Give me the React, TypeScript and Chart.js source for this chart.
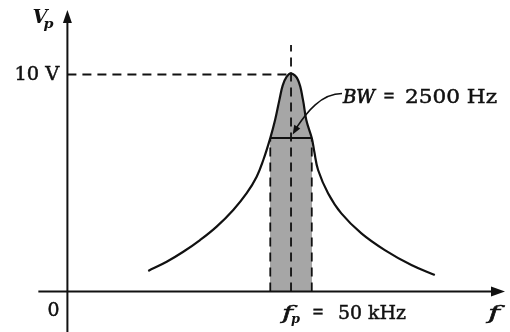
import React, { useEffect, useRef } from "react";
import { Chart, registerables } from "chart.js";

Chart.register(...registerables);

// Resonance curve (frequency in kHz, voltage in V)
const curveFreq = [41.4, 42.51, 43.51, 44.52, 45.52, 46.52, 47.33, 47.93, 48.33, 48.75, 49.04, 49.3, 49.5, 49.74, 50.0, 50.42, 50.72, 50.92, 51.25, 51.4, 51.63, 52.23, 53.03, 54.24, 55.65, 57.25, 58.66];
const curveVolts = [0.95, 1.37, 1.83, 2.37, 2.99, 3.76, 4.53, 5.29, 6.06, 7.07, 7.9, 8.83, 9.5, 9.9, 10.05, 9.75, 8.83, 7.9, 7.07, 6.45, 5.6, 4.53, 3.6, 2.68, 1.91, 1.22, 0.76];

const peakFreq = 50; // kHz
const peakVolts = 10; // V
const bandLow = 48.75; // kHz
const bandHigh = 51.25; // kHz
const halfPowerVolts = 7.07;
const centerLineTop = 11.36;

const axisFreq = 36.53; // where the V axis crosses
const xAxisStart = 34.78;
const xAxisEnd = 62.89;
const yAxisTop = 12.97;
const yAxisBottom = -1.9;

const xMin = 32.47;
const xMax = 63.19;
const yMin = -1.866;
const yMax = 13.433;

const yTickLabel = "10 V";
const originLabel = "0";
const xTickValue = "50 kHz";
const bwLabelValue = "2500 Hz";

const SERIF = '"DejaVu Serif", "Liberation Serif", serif';

function drawFit(ctx: CanvasRenderingContext2D, text: string, x: number, y: number, font: string, width?: number, thick = 0.45) {
  ctx.save();
  ctx.font = font;
  ctx.textBaseline = "alphabetic";
  ctx.textAlign = "left";
  const w = ctx.measureText(text).width;
  ctx.translate(x, y);
  if (width && w > 0) ctx.scale(width / w, 1);
  ctx.fillText(text, 0, 0);
  if (thick > 0) {
    ctx.lineWidth = thick;
    ctx.strokeText(text, 0, 0);
  }
  ctx.restore();
}

function tri(ctx: CanvasRenderingContext2D, tipX: number, tipY: number, dx: number, dy: number, len: number, half: number) {
  const n = Math.hypot(dx, dy);
  const ux = dx / n, uy = dy / n;
  const bx = tipX - ux * len, by = tipY - uy * len;
  ctx.beginPath();
  ctx.moveTo(tipX, tipY);
  ctx.lineTo(bx - uy * half, by + ux * half);
  ctx.lineTo(bx + uy * half, by - ux * half);
  ctx.closePath();
  ctx.fill();
}

const annotations = {
  id: "annotations",
  afterDatasetsDraw(chart: any) {
    const ctx: CanvasRenderingContext2D = chart.ctx;
    const xs = chart.scales.x, ys = chart.scales.y;
    const X = (v: number) => xs.getPixelForValue(v);
    const Y = (v: number) => ys.getPixelForValue(v);
    ctx.save();
    ctx.fillStyle = "#111";
    ctx.strokeStyle = "#111";
    // axis arrowheads
    tri(ctx, X(xAxisEnd), Y(0), 1, 0, 14, 5);
    tri(ctx, X(axisFreq), Y(yAxisTop), 0, -1, 13, 4.5);

    // labels
    const ax = X(axisFreq);
    drawFit(ctx, "V", ax - 35, Y(yAxisTop) + 13, `italic bold 18px ${SERIF}`, 15, 0);
    drawFit(ctx, "p", ax - 24, Y(yAxisTop) + 18, `italic bold 13px ${SERIF}`, 10, 0);
    drawFit(ctx, yTickLabel, ax - 53, Y(peakVolts) + 6, `18px ${SERIF}`, 45);
    drawFit(ctx, originLabel, ax - 20, Y(0) + 24, `18px ${SERIF}`, 12);

    const fx = X(peakFreq);
    const by = Y(0) + 27;
    drawFit(ctx, "f", fx - 9, by, `italic 18px ${SERIF}`, 11);
    drawFit(ctx, "p", fx, by + 4, `italic bold 13px ${SERIF}`, 9, 0);
    drawFit(ctx, "=", fx + 21, by - 1, `18px ${SERIF}`, 12);
    drawFit(ctx, xTickValue, fx + 47, by, `18px ${SERIF}`, 68);
    drawFit(ctx, "f", X(xAxisEnd) - 17, by, `italic 18px ${SERIF}`, 12);

    // BW label
    const bx = fx + 52, bY = Y(peakVolts) + 29;
    drawFit(ctx, "BW", bx, bY, `italic 18px ${SERIF}`, 32, 0.7);
    drawFit(ctx, "=", bx + 40, bY - 1, `18px ${SERIF}`, 12);
    drawFit(ctx, bwLabelValue, bx + 62, bY, `18px ${SERIF}`, 92);

    // curved pointer arrow
    const tipX = X(50.1), tipY = Y(7.24);
    ctx.lineWidth = 1.6;
    ctx.beginPath();
    ctx.moveTo(bx - 1, bY - 10);
    ctx.bezierCurveTo(bx - 22, bY - 10, tipX + 14, tipY - 22, tipX + 4, tipY - 7);
    ctx.stroke();
    tri(ctx, tipX, tipY, -0.5, 0.85, 9, 3.5);
    ctx.restore();
  },
};

export default function App() {
  const ref = useRef<HTMLCanvasElement | null>(null);
  useEffect(() => {
    if (!ref.current) return;
    const curve = curveFreq.map((f, i) => ({ x: f, y: curveVolts[i] }));
    const seg = (x1: number, y1: number, x2: number, y2: number) => [
      { x: x1, y: y1 },
      { x: x2, y: y2 },
    ];
    const dashed = { borderColor: "#111", borderWidth: 1.8, borderDash: [9, 6], pointRadius: 0, showLine: true, fill: false };
    const solid = { borderColor: "#111", borderWidth: 2, pointRadius: 0, showLine: true, fill: false };
    const bandFill = (c: any) => {
      const chart = c.chart;
      const area = chart.chartArea;
      if (!area || !chart.scales.x) return "#a6a6a6";
      const xs = chart.scales.x;
      const w = chart.width;
      const a = Math.max(0, Math.min(1, xs.getPixelForValue(bandLow) / w));
      const b = Math.max(0, Math.min(1, xs.getPixelForValue(bandHigh) / w));
      const g = chart.ctx.createLinearGradient(0, 0, w, 0);
      g.addColorStop(0, "rgba(166,166,166,0)");
      g.addColorStop(a, "rgba(166,166,166,0)");
      g.addColorStop(a, "rgba(166,166,166,1)");
      g.addColorStop(b, "rgba(166,166,166,1)");
      g.addColorStop(b, "rgba(166,166,166,0)");
      g.addColorStop(1, "rgba(166,166,166,0)");
      return g;
    };
    const chart = new Chart(ref.current, {
      type: "scatter",
      data: {
        datasets: [
          {
            label: "Vp",
            data: curve,
            ...solid,
            borderWidth: 2.2,
            tension: 0.4,
            order: 0,
          } as any,
          { label: "half power", data: seg(bandLow, halfPowerVolts, bandHigh, halfPowerVolts), ...solid, order: 1 } as any,
          { label: "x axis", data: seg(xAxisStart, 0, xAxisEnd - 0.5, 0), ...solid, order: 1 } as any,
          { label: "y axis", data: seg(axisFreq, yAxisBottom, axisFreq, yAxisTop - 0.3), ...solid, order: 1 } as any,
          { label: "10 V ref", data: seg(axisFreq, peakVolts, peakFreq, peakVolts), ...dashed, order: 2 } as any,
          { label: "fp", data: seg(peakFreq, 0, peakFreq, centerLineTop), ...dashed, order: 2 } as any,
          { label: "f1", data: seg(bandLow, 0, bandLow, halfPowerVolts), ...dashed, order: 2 } as any,
          { label: "f2", data: seg(bandHigh, 0, bandHigh, halfPowerVolts), ...dashed, order: 2 } as any,
          {
            label: "band",
            data: curve,
            showLine: true,
            borderWidth: 0,
            borderColor: "rgba(0,0,0,0)",
            backgroundColor: bandFill,
            pointRadius: 0,
            fill: "origin",
            tension: 0.4,
            order: 10,
          } as any,
        ],
      },
      options: {
        animation: false,
        responsive: false,
        maintainAspectRatio: false,
        layout: { padding: 0 },
        scales: {
          x: { type: "linear", min: xMin, max: xMax, display: false },
          y: { type: "linear", min: yMin, max: yMax, display: false },
        },
        plugins: { legend: { display: false }, tooltip: { enabled: false } },
      },
      plugins: [annotations],
    });
    return () => chart.destroy();
  }, []);
  return (
    <div style={{ position: "absolute", left: 0, top: 0, width: 510, height: 332, background: "#fff" }}>
      <canvas ref={ref} width={510} height={332} style={{ width: 510, height: 332, display: "block" }} />
    </div>
  );
}
